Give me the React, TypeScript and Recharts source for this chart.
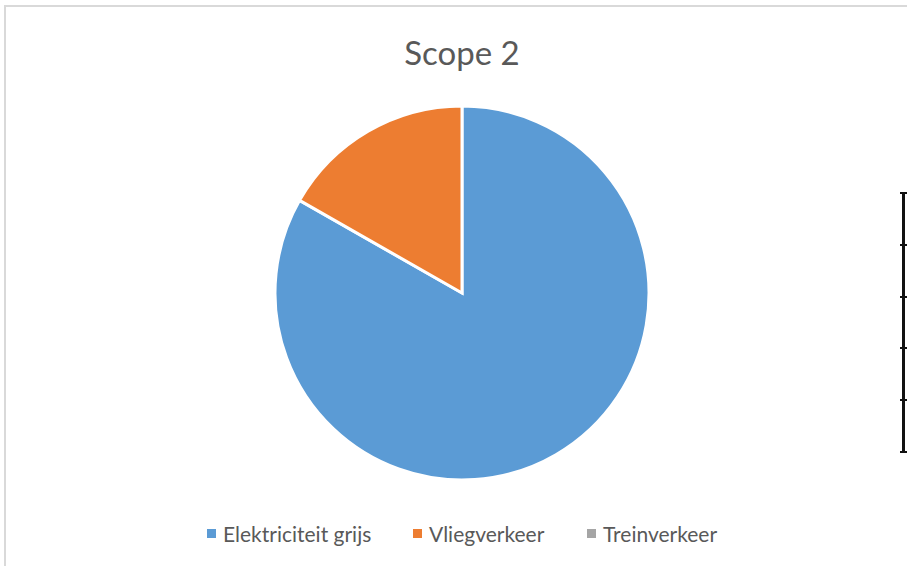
import { PieChart, Pie, Cell, Legend } from "recharts"

const categories = ["Elektriciteit grijs", "Vliegverkeer", "Treinverkeer"]
const values = [83.25, 16.75, 0]
const colors = ["#5b9bd5", "#ed7d31", "#a5a5a5"]

const data = categories.map((name, i) => ({ name, value: values[i] }))

const font = "Lato, 'Open Sans', sans-serif"
const legendX = [207, 413, 587]

function LegendContent() {
  return (
    <div style={{ position: "relative", height: 30, fontFamily: font, fontSize: 21, color: "#595959" }}>
      {categories.map((c, i) => (
        <div key={c} style={{ position: "absolute", left: legendX[i], top: 0, display: "flex", alignItems: "center", whiteSpace: "nowrap" }}>
          <span style={{ width: 9, height: 9, background: colors[i], marginRight: 7, display: "inline-block" }} />
          <span>{c}</span>
        </div>
      ))}
    </div>
  )
}

export default function App() {
  return (
    <div style={{ position: "absolute", left: 0, top: 0, width: 907, height: 566, background: "#fff", overflow: "hidden" }}>
      <div style={{ position: "absolute", left: 4, top: 5, width: 910, height: 570, borderTop: "2px solid #d9d9d9", borderLeft: "2px solid #d9d9d9" }} />
      <div style={{ position: "absolute", left: 0, top: 32, width: 924, textAlign: "center", fontFamily: font, fontSize: 33, color: "#595959" }}>
        Scope 2
      </div>
      {/* stray table edge on the right */}
      <div style={{ position: "absolute", left: 902, top: 192, width: 3, height: 261, background: "#111" }} />
      {[192, 244, 296, 347, 399, 451].map((y) => (
        <div key={y} style={{ position: "absolute", left: 900, top: y, width: 7, height: 2, background: "#111" }} />
      ))}
      <div style={{ position: "absolute", left: 0, top: 0 }}>
        <PieChart width={907} height={566}>
          <Pie
            data={data}
            dataKey="value"
            nameKey="name"
            cx={457}
            cy={288}
            outerRadius={187}
            startAngle={90}
            endAngle={-270}
            stroke="#fff"
            strokeWidth={3}
            isAnimationActive={false}
          >
            {data.map((d, i) => (
              <Cell key={d.name} fill={colors[i]} />
            ))}
          </Pie>
          <Legend content={<LegendContent />} wrapperStyle={{ top: 521, left: 0, width: 907 }} />
        </PieChart>
      </div>
    </div>
  )
}
